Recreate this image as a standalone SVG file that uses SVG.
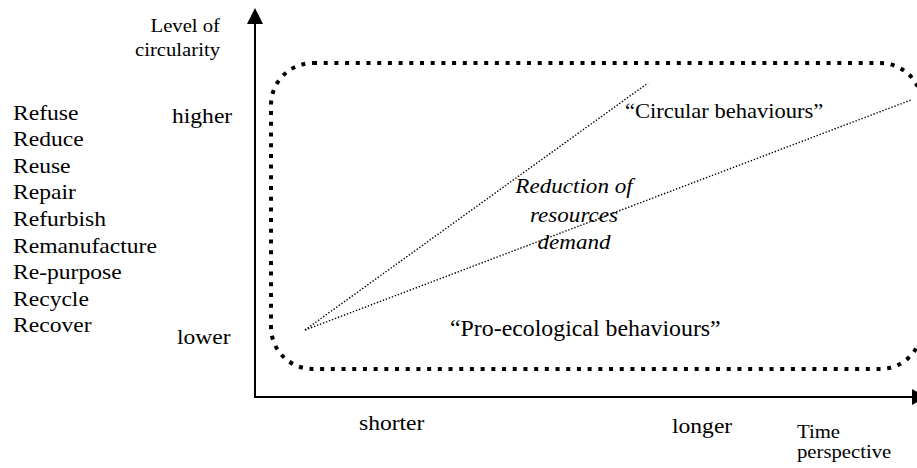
<svg xmlns="http://www.w3.org/2000/svg" width="917" height="468" viewBox="0 0 917 468" font-family="Liberation Serif, Times New Roman, serif">
<style>
text{fill:#000}
.l{font-size:20.5px}
.s{font-size:18px}
.it{font-style:italic;font-size:21px}
.axis{stroke:#000;stroke-width:2;fill:none}
.box{stroke:#000;stroke-width:4;fill:none;stroke-dasharray:4 6.7}
.dot{stroke:#000;stroke-width:1.4;fill:none;stroke-dasharray:1.4 1.8}
</style>
<rect width="917" height="468" fill="#fff"/>
<g id="axes">
<line class="axis" x1="255" y1="20" x2="255" y2="398"/>
<polygon points="255,8 247,24 263,24" fill="#000"/>
<line class="axis" x1="254" y1="397" x2="915" y2="397"/>
<polygon points="912,389 927,397 912,405" fill="#000"/>
</g>
<g id="region">
<rect class="box" x="271" y="63" width="651" height="306" rx="42" ry="42"/>
</g>
<g id="connectors">
<line class="dot" x1="305" y1="330" x2="648" y2="83"/>
<line class="dot" x1="305" y1="330" x2="911" y2="100"/>
</g>
<g id="y-title">
<text class="s" text-anchor="end" transform="translate(220,32) scale(1.15,1)">Level of</text>
<text class="s" text-anchor="end" transform="translate(220,56) scale(1.15,1)">circularity</text>
</g>
<g id="levels">
<text class="l" transform="translate(172,123) scale(1.15,1)">higher</text>
<text class="l" transform="translate(177,344) scale(1.15,1)">lower</text>
</g>
<g id="r-list">
<text class="l" transform="translate(13,119.5) scale(1.15,1)">Refuse</text>
<text class="l" transform="translate(13,146.1) scale(1.15,1)">Reduce</text>
<text class="l" transform="translate(13,172.7) scale(1.15,1)">Reuse</text>
<text class="l" transform="translate(13,199.3) scale(1.15,1)">Repair</text>
<text class="l" transform="translate(13,225.9) scale(1.15,1)">Refurbish</text>
<text class="l" transform="translate(13,252.5) scale(1.15,1)">Remanufacture</text>
<text class="l" transform="translate(13,279.1) scale(1.15,1)">Re-purpose</text>
<text class="l" transform="translate(13,305.7) scale(1.15,1)">Recycle</text>
<text class="l" transform="translate(13,332.3) scale(1.15,1)">Recover</text>
</g>
<g id="circular">
<text class="l" transform="translate(625,118) scale(1.1,1)">“Circular behaviours”</text>
</g>
<g id="reduction">
<text class="it" text-anchor="middle" transform="translate(574,193) scale(1.1,1)">Reduction of</text>
<text class="it" text-anchor="middle" transform="translate(574,222) scale(1.1,1)">resources</text>
<text class="it" text-anchor="middle" transform="translate(574,249) scale(1.1,1)">demand</text>
</g>
<g id="pro-ecological">
<text font-size="22.5" transform="translate(450,336) scale(1.06,1)">“Pro-ecological behaviours”</text>
</g>
<g id="x-labels">
<text class="l" transform="translate(359,430) scale(1.15,1)">shorter</text>
<text class="l" transform="translate(672,433) scale(1.15,1)">longer</text>
<text class="s" transform="translate(797,438) scale(1.15,1)">Time</text>
<text class="s" transform="translate(797,458) scale(1.15,1)">perspective</text>
</g>
</svg>
